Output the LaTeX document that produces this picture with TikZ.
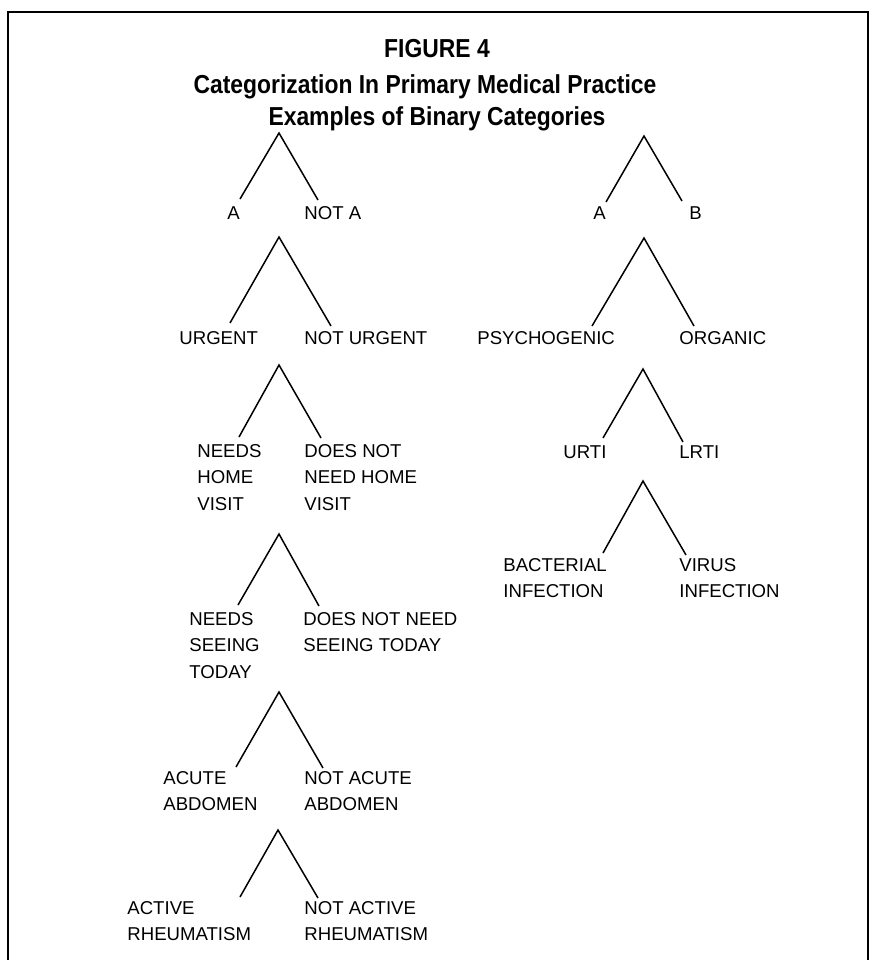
\documentclass[tikz,border=0pt]{standalone}
\usepackage{fontspec}
\setmainfont{Liberation Sans}
\newfontfamily\ttlfont[FakeStretch=0.88]{Liberation Sans}
\usetikzlibrary{positioning}

\begin{document}
\begin{tikzpicture}[x=0.5pt, y=-0.5pt,
    lbl/.style={anchor=north west, inner sep=0pt, align=left,
      font=\fontsize{9.3pt}{13.25pt}\selectfont},
    ttl/.style={anchor=base, inner sep=0pt, font=\ttlfont\fontsize{13pt}{15pt}\selectfont\bfseries},
    leg/.style={line width=0.75pt}]
  \useasboundingbox (0,0) rectangle (873,960);
  % open frame, no bottom edge
  \coordinate (fbl) at (8,960); \coordinate (ftl) at (8,12);
  \coordinate (ftr) at (868,12); \coordinate (fbr) at (868,960);
  \draw[line width=1pt] (fbl) -- (ftl) -- (ftr) -- (fbr);

  % titles
  \node[ttl] (fig) at (437,57) {FIGURE 4};
  \node[ttl] (sub) at (425,93) {Categorization In Primary Medical Practice};
  \node[ttl] (ex) at (437,125) {Examples of Binary Categories};

  % splits: name/apex/left end/right end
  \foreach \t/\ax/\ay/\lx/\ly/\rx/\ry in {
      l1/279/133/240/199/318/200, l2/279/237/230/323/331/326,
      l3/279/365/239/437/321/438, l4/279/534/238/605/319/606,
      l5/279/692/236/767/323/768, l6/278/830/240/897/318/898,
      r1/644/136/606/202/682/201, r2/644/238/592/326/694/326,
      r3/643/369/603/438/683/442, r4/643/481/603/553/686/555}{
    \coordinate (\t) at (\ax,\ay);
    \coordinate (\t-a) at (\lx,\ly);
    \coordinate (\t-b) at (\rx,\ry);
    \draw[leg] (\t-a) -- (\t) -- (\t-b);
  }

  % left column
  \node[lbl] (a) at (227,206) {A};
  \node[lbl] (nota) at (304,206) {NOT A};
  \node[lbl] (urg) at (179,331) {URGENT};
  \node[lbl] (nurg) at (304,331) {NOT URGENT};
  \node[lbl] (home) at (197,444) {NEEDS\\HOME\\VISIT};
  \node[lbl] (nhome) at (304,444) {DOES NOT\\NEED HOME\\VISIT};
  \node[lbl] (seen) at (189,612) {NEEDS\\SEEING\\TODAY};
  \node[lbl] (nseen) at (303,612) {DOES NOT NEED\\SEEING TODAY};
  \node[lbl] (abd) at (163,771) {ACUTE\\ABDOMEN};
  \node[lbl] (nabd) at (304,771) {NOT ACUTE\\ABDOMEN};
  \node[lbl] (rh) at (127,901) {ACTIVE\\RHEUMATISM};
  \node[lbl] (nrh) at (304,901) {NOT ACTIVE\\RHEUMATISM};

  % right column
  \node[lbl] (ra) at (593,206) {A};
  \node[lbl] (rb) at (689,206) {B};
  \node[lbl] (psy) at (477,331) {PSYCHOGENIC};
  \node[lbl] (org) at (679,331) {ORGANIC};
  \node[lbl] (urti) at (563,445) {URTI};
  \node[lbl] (lrti) at (679,445) {LRTI};
  \node[lbl] (bac) at (503,558) {BACTERIAL\\INFECTION};
  \node[lbl] (vir) at (679,558) {VIRUS\\INFECTION};
\end{tikzpicture}
\end{document}
